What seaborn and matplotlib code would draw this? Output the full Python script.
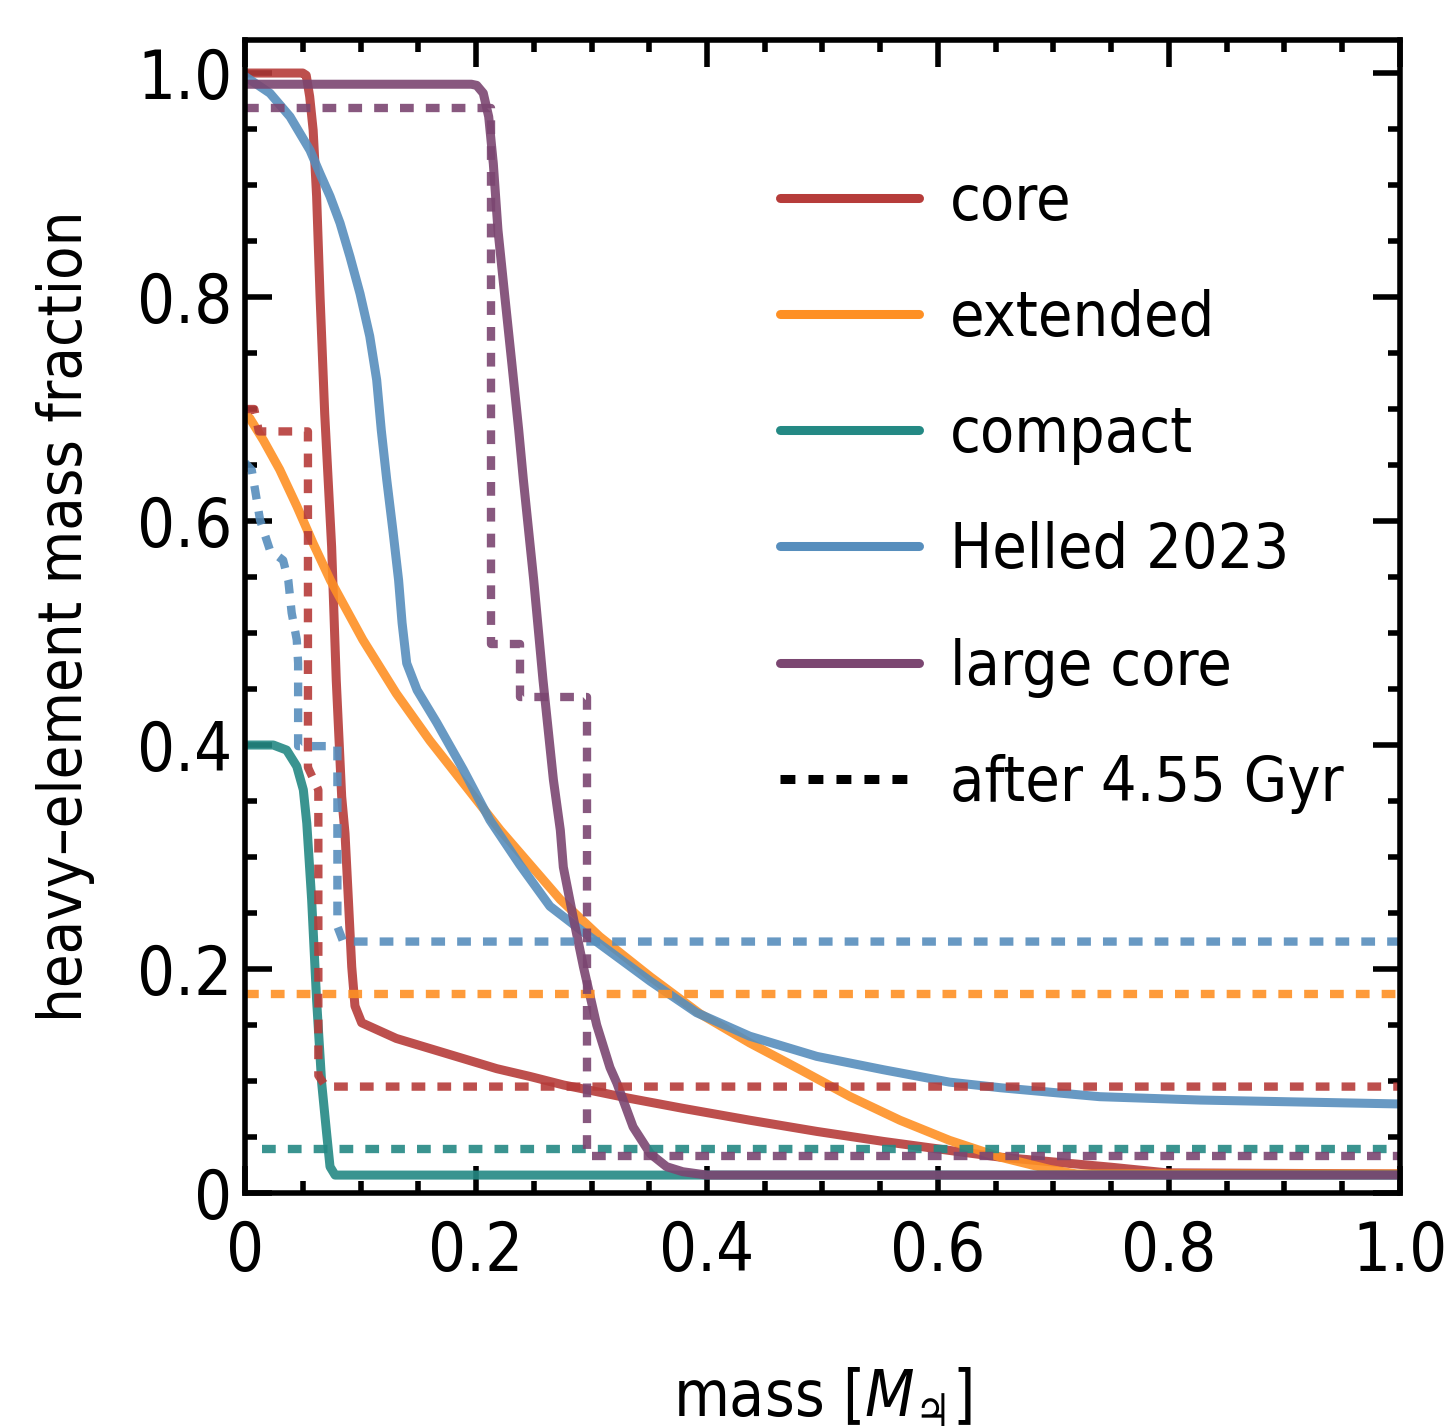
import matplotlib

matplotlib.use("Agg", force=True)
import matplotlib.pyplot as plt
import pandas as pd
import seaborn as sns
from matplotlib import font_manager
from matplotlib.lines import Line2D
from matplotlib.ticker import FuncFormatter, MultipleLocator

# --- initial profiles (solid) ---
core_m = [0.0, 0.050, 0.053, 0.056, 0.059, 0.062, 0.065, 0.069, 0.075, 0.079, 0.0837, 0.0866, 0.0895,
          0.0924, 0.0952, 0.101, 0.131, 0.160, 0.189, 0.218, 0.247, 0.276, 0.3045, 0.333, 0.379,
          0.437, 0.495, 0.553, 0.610, 0.654, 0.697, 0.75, 0.798, 1.0]
core_z = [1.0, 1.0, 0.998, 0.979, 0.949, 0.890, 0.800, 0.696, 0.577, 0.458, 0.354, 0.321, 0.262,
          0.202, 0.167, 0.152, 0.138, 0.129, 0.120, 0.111, 0.104, 0.0964, 0.0905, 0.0845, 0.0756,
          0.065, 0.055, 0.046, 0.038, 0.032, 0.028, 0.023, 0.018, 0.017]

ext_m = [0.0, 0.004, 0.016, 0.030, 0.045, 0.059, 0.074, 0.102, 0.131, 0.160, 0.189, 0.221, 0.273,
         0.307, 0.351, 0.394, 0.437, 0.481, 0.524, 0.567, 0.610, 0.654, 0.697, 0.72, 1.0]
ext_z = [0.695, 0.692, 0.672, 0.646, 0.613, 0.580, 0.547, 0.494, 0.446, 0.404, 0.366, 0.324, 0.262,
         0.229, 0.193, 0.160, 0.134, 0.110, 0.086, 0.065, 0.047, 0.032, 0.021, 0.017, 0.017]

comp_m = [0.0, 0.0245, 0.036, 0.0448, 0.0505, 0.0535, 0.0577, 0.062, 0.0664, 0.0707, 0.0736, 0.078, 1.0]
comp_z = [0.40, 0.40, 0.3955, 0.381, 0.360, 0.330, 0.262, 0.172, 0.098, 0.053, 0.0235, 0.016, 0.016]

helled_m = [0.0, 0.0216, 0.039, 0.0563, 0.065, 0.0736, 0.0823, 0.0909, 0.0996, 0.108, 0.114, 0.118,
            0.1227, 0.128, 0.133, 0.136, 0.140, 0.149, 0.166, 0.189, 0.212, 0.238, 0.264, 0.293,
            0.322, 0.351, 0.391, 0.437, 0.495, 0.553, 0.610, 0.654, 0.740, 0.827, 1.0]
helled_z = [0.997, 0.982, 0.961, 0.931, 0.910, 0.890, 0.866, 0.836, 0.803, 0.765, 0.726, 0.681,
            0.637, 0.592, 0.547, 0.509, 0.473, 0.449, 0.420, 0.378, 0.333, 0.293, 0.256, 0.233,
            0.211, 0.189, 0.161, 0.140, 0.122, 0.110, 0.099, 0.094, 0.086, 0.083, 0.0795]

large_m = [0.0, 0.196, 0.2006, 0.2063, 0.211, 0.215, 0.219, 0.225, 0.231, 0.237, 0.241, 0.250, 0.258,
           0.267, 0.273, 0.2756, 0.284, 0.293, 0.3045, 0.316, 0.322, 0.336, 0.351, 0.365, 0.379,
           0.40, 1.0]
large_z = [0.99, 0.99, 0.989, 0.982, 0.961, 0.919, 0.860, 0.800, 0.741, 0.681, 0.637, 0.547, 0.458,
           0.369, 0.324, 0.291, 0.247, 0.202, 0.150, 0.112, 0.098, 0.059, 0.035, 0.0235, 0.019,
           0.016, 0.016]

# --- after 4.55 Gyr (dashed) ---
core_end_m = [0.0, 0.008, 0.012, 0.0545, 0.0545, 0.0635, 0.0635, 0.070, 1.0]
core_end_z = [0.70, 0.70, 0.68, 0.68, 0.38, 0.36, 0.105, 0.095, 0.095]

ext_end_m = [0.0, 1.0]
ext_end_z = [0.178, 0.178]

comp_end_m = [0.015, 1.0]
comp_end_z = [0.039, 0.039]

helled_end_m = [0.0, 0.0058, 0.0087, 0.013, 0.0216, 0.033, 0.0375, 0.0404, 0.0448, 0.046, 0.046,
                0.080, 0.080, 0.085, 1.0]
helled_end_z = [0.652, 0.6455, 0.628, 0.601, 0.574, 0.565, 0.547, 0.518, 0.494, 0.473, 0.399,
                0.399, 0.238, 0.2245, 0.2245]

large_end_m = [0.0, 0.213, 0.213, 0.238, 0.238, 0.296, 0.296, 1.0]
large_end_z = [0.9685, 0.9685, 0.49, 0.49, 0.443, 0.443, 0.033, 0.033]

labels = ["core", "extended", "compact", "Helled 2023", "large core"]
colors = ["#b63c3a", "#fe9024", "#248984", "#578ebd", "#7b4671"]

initial = [(core_m, core_z), (ext_m, ext_z), (comp_m, comp_z), (helled_m, helled_z), (large_m, large_z)]
final = [(core_end_m, core_end_z), (ext_end_m, ext_end_z), (comp_end_m, comp_end_z),
         (helled_end_m, helled_end_z), (large_end_m, large_end_z)]

DASH = (0, (1.65, 1.45))


def tick_fmt(v, _):
    return "0" if abs(v) < 1e-9 else f"{v:.1f}"


sns.set_theme(style="ticks")
installed = {f.name for f in font_manager.fontManager.ttflist}
if "Liberation Sans Narrow" in installed:
    base = "Liberation Sans Narrow"
    plt.rcParams["font.stretch"] = "normal"
    scale = 1.12
else:
    base = "DejaVu Sans"
    plt.rcParams["font.stretch"] = "condensed"
    scale = 1.0
plt.rcParams["font.family"] = [base, "DejaVu Sans"]
plt.rcParams["mathtext.fontset"] = "custom"
plt.rcParams["mathtext.rm"] = f"{base}:stretch=condensed"
plt.rcParams["mathtext.it"] = f"{base}:italic:stretch=condensed"
plt.rcParams["mathtext.sf"] = "DejaVu Sans"

FS_TICK = 48 * scale
FS_LEG = 45 * scale
FS_YLAB = 44 * scale
FS_XLAB = 46 * scale

fig = plt.figure(figsize=(14.51, 14.27), dpi=100)
ax = fig.add_axes([0.16885, 0.16398, 0.79600, 0.80799])

for (m, z), c in zip(initial, colors):
    df = pd.DataFrame({"m": m, "z": z})
    sns.lineplot(data=df, x="m", y="z", ax=ax, color=c, lw=6.5, alpha=0.9,
                 sort=False, estimator=None, legend=False)
for (m, z), c in zip(final, colors):
    df = pd.DataFrame({"m": m, "z": z})
    sns.lineplot(data=df, x="m", y="z", ax=ax, color=c, lw=6.0, alpha=0.9, linestyle=DASH,
                 sort=False, estimator=None, legend=False)

ax.set_xlim(0, 1.0)
ax.set_ylim(0, 1.0295)
ax.xaxis.set_major_locator(MultipleLocator(0.2))
ax.xaxis.set_minor_locator(MultipleLocator(0.05))
ax.yaxis.set_major_locator(MultipleLocator(0.2))
ax.yaxis.set_minor_locator(MultipleLocator(0.05))
ax.xaxis.set_major_formatter(FuncFormatter(tick_fmt))
ax.yaxis.set_major_formatter(FuncFormatter(tick_fmt))

for sp in ax.spines.values():
    sp.set_linewidth(4)
    sp.set_color("black")
ax.tick_params(which="both", direction="in", top=True, right=True, color="black", width=4)
ax.tick_params(which="major", length=19.5, labelsize=FS_TICK, labelcolor="black")
ax.tick_params(which="minor", length=8.5)
ax.tick_params(axis="x", which="major", pad=19)
ax.tick_params(axis="y", which="major", pad=9)

ax.set_xlabel(r"mass [$M_{\mathsf{♃}}$]", fontsize=FS_XLAB, labelpad=58, color="black")
ax.set_ylabel("heavy\u2013element mass fraction", fontsize=FS_YLAB, labelpad=30, color="black")

handles = [Line2D([], [], color=c, lw=6.5) for c in colors]
handles.append(Line2D([], [], color="black", lw=6.5, linestyle=DASH))
ax.legend(handles, labels + ["after 4.55 Gyr"], loc="upper left", bbox_to_anchor=(0.463, 0.885),
          frameon=False, fontsize=FS_LEG, borderpad=0, borderaxespad=0, handlelength=2.22,
          handletextpad=0.5, labelspacing=0.9, labelcolor="black")

fig.savefig("out.png", dpi=100)
